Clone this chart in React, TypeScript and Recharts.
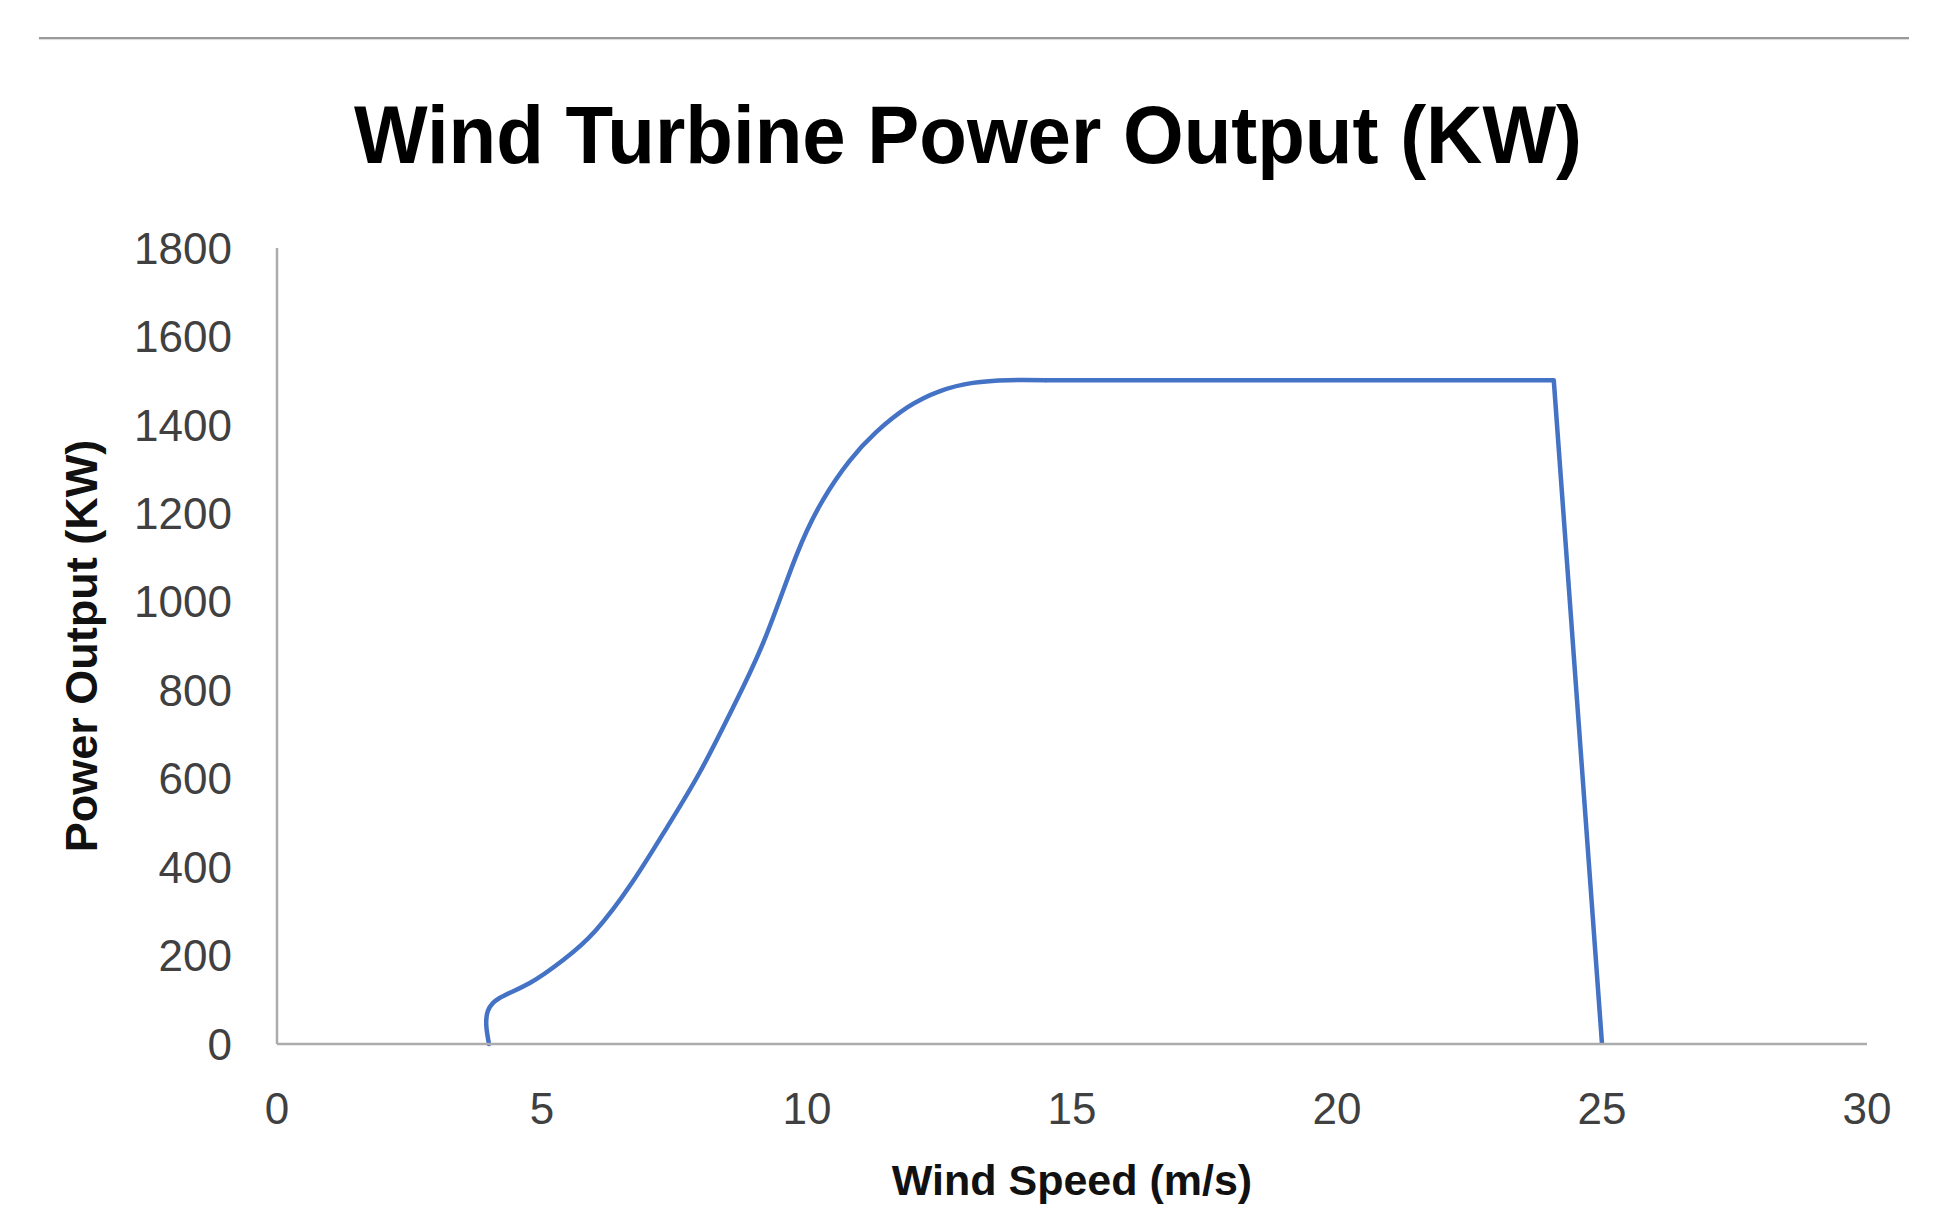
import React from 'react';
import { LineChart, Line, XAxis, YAxis } from 'recharts';

const xTicks = [0, 5, 10, 15, 20, 25, 30];
const yTicks = [0, 200, 400, 600, 800, 1000, 1200, 1400, 1600, 1800];

// rising part of the power curve (wind speed m/s, power kW)
const riseSpeed = [4.0, 3.95, 3.98, 4.2, 4.77, 5.4, 6.0, 6.7, 7.36, 7.98, 8.6, 9.2, 9.8, 10.3, 10.8, 11.3, 11.9, 12.5, 13.13, 13.8, 14.5];
const risePower = [0, 40, 75, 104, 138, 190, 255, 365, 490, 615, 760, 915, 1105, 1230, 1318, 1383, 1440, 1476, 1495, 1501, 1501];

// rated plateau and cut-out
const plateauSpeed = [14.5, 24.09, 25.0];
const plateauPower = [1501, 1501, 0];

const riseData = riseSpeed.map((s, i) => ({ speed: s, power: risePower[i] }));
const plateauData = plateauSpeed.map((s, i) => ({ speed: s, power: plateauPower[i] }));

const FONT = '"Liberation Sans", Arial, sans-serif';
const LINE_COLOR = '#4472C4';
const AXIS_COLOR = '#ACACAC';

export default function App() {
  return (
    <div style={{ position: 'absolute', left: 0, top: 0, width: 1933, height: 1230, background: '#fff', overflow: 'hidden' }}>
      <div style={{ position: 'absolute', left: 39, top: 37, width: 1870, height: 2, background: '#9a9a9a', boxShadow: '0 1px 1px rgba(0,0,0,0.15)' }} />
      <div style={{ position: 'absolute', left: 0, top: 0 }}>
        <LineChart width={1933} height={1230} margin={{ top: 248, right: 66, bottom: 86, left: 97 }}>
          <XAxis
            dataKey="speed"
            type="number"
            domain={[0, 30]}
            ticks={xTicks}
            allowDuplicatedCategory={false}
            height={100}
            tickLine={false}
            tickSize={0}
            tickMargin={49}
            axisLine={{ stroke: AXIS_COLOR, strokeWidth: 2.5 }}
            tick={{ fill: '#404040', fontSize: 44, fontFamily: FONT }}
            interval={0}
          />
          <YAxis
            dataKey="power"
            type="number"
            domain={[0, 1800]}
            ticks={yTicks}
            width={180}
            tickLine={false}
            tickSize={0}
            tickMargin={45}
            axisLine={{ stroke: AXIS_COLOR, strokeWidth: 2.5 }}
            tick={{ fill: '#404040', fontSize: 44, fontFamily: FONT }}
            interval={0}
          />
          <Line
            data={riseData}
            dataKey="power"
            type="natural"
            stroke={LINE_COLOR}
            strokeWidth={4.5}
            strokeLinecap="round"
            dot={false}
            activeDot={false}
            isAnimationActive={false}
          />
          <Line
            data={plateauData}
            dataKey="power"
            type="linear"
            stroke={LINE_COLOR}
            strokeWidth={4.5}
            strokeLinejoin="round"
            dot={false}
            activeDot={false}
            isAnimationActive={false}
          />
        </LineChart>
      </div>
      <svg width={1933} height={1230} style={{ position: 'absolute', left: 0, top: 0, pointerEvents: 'none' }}>
        <text x={968} y={163} textAnchor="middle" fontFamily={FONT} fontWeight="bold" fontSize={82} fill="#000" textLength={1228} lengthAdjust="spacingAndGlyphs">
          Wind Turbine Power Output (KW)
        </text>
        <text x={1072} y={1195} textAnchor="middle" fontFamily={FONT} fontWeight="bold" fontSize={43} fill="#111">
          Wind Speed (m/s)
        </text>
        <text x={97} y={646} transform="rotate(-90 97 646)" textAnchor="middle" fontFamily={FONT} fontWeight="bold" fontSize={45} fill="#111">
          Power Output (KW)
        </text>
      </svg>
    </div>
  );
}
